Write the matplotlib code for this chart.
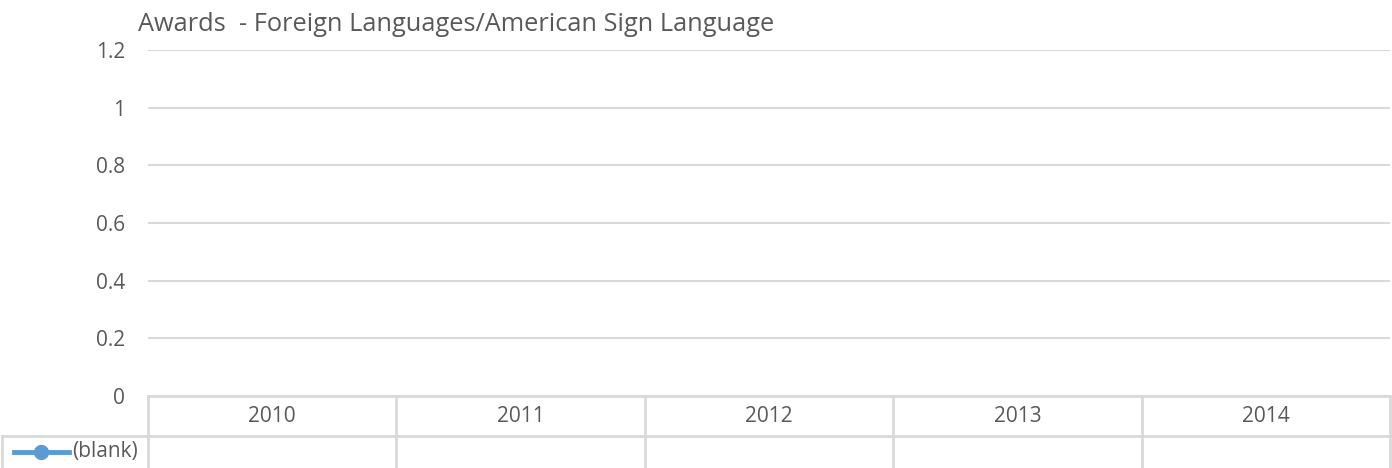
import numpy as np
import matplotlib
matplotlib.use("Agg")
import matplotlib.pyplot as plt
from matplotlib.lines import Line2D
import matplotlib.transforms as mtransforms

plt.rcParams['font.family'] = ['Open Sans', 'DejaVu Sans']

title = "Awards  - Foreign Languages/American Sign Language"
years = ["2010", "2011", "2012", "2013", "2014"]
series_name = "(blank)"
values = [np.nan, np.nan, np.nan, np.nan, np.nan]
yticks = [0, 0.2, 0.4, 0.6, 0.8, 1.0, 1.2]
ytick_labels = ["0", "0.2", "0.4", "0.6", "0.8", "1", "1.2"]

W, H = 1392, 468
fig = plt.figure(figsize=(W / 100, H / 100), dpi=100)
L, R, T, B = 148, 1390, 50, 396
ax = fig.add_axes([L / W, 1 - B / H, (R - L) / W, (B - T) / H])

grid_c = "#d9d9d9"
text_c = "#595959"
line_c = "#5b9bd5"

x = np.arange(len(years))
ax.plot(x, values, color=line_c, lw=3, marker="o", ms=9)
ax.set_xlim(-0.5, len(years) - 0.5)
ax.set_ylim(0, 1.2)
ax.set_yticks(yticks)
ax.set_yticklabels(ytick_labels)
ax.tick_params(axis="y", length=0, pad=16.5, labelcolor=text_c, labelsize=15)
ax.set_xticks([])
for s in ax.spines.values():
    s.set_visible(False)
ax.yaxis.grid(True, color=grid_c, lw=1.5)
ax.set_axisbelow(True)

# title
fig.text(138 / W, 1 - 31 / H, title, ha="left", va="baseline",
         fontsize=18.3, color=text_c)

# data table
def fy(py):
    return 1 - py / H

def fx(px):
    return px / W

def hline(x0, x1, y):
    fig.add_artist(Line2D([fx(x0), fx(x1)], [fy(y), fy(y)], color=grid_c, lw=2))

def vline(xp, y0, y1):
    fig.add_artist(Line2D([fx(xp), fx(xp)], [fy(y0), fy(y1)], color=grid_c, lw=2))

row1, row2, bottom = 396, 436, 470
hline(L, R, row1)
hline(2, R, row2)
col_w = (R - L) / len(years)
for i in range(len(years) + 1):
    vline(L + i * col_w, row1, bottom)
vline(2, row2, bottom)

trans = mtransforms.blended_transform_factory(ax.transData, fig.transFigure)
for xi, yr in zip(x, years):
    fig.text(xi, fy(417), yr, transform=trans, ha="center",
             va="center", fontsize=15, color=text_c)

# legend key in table
fig.add_artist(Line2D([fx(14), fx(69)], [fy(452), fy(452)], color=line_c, lw=3.5))
fig.add_artist(Line2D([fx(41)], [fy(452)], color=line_c, marker="o", ms=10, lw=0))
fig.text(fx(72), fy(452), series_name, ha="left", va="center", fontsize=15,
         color=text_c)

fig.savefig("out.png", dpi=100)
